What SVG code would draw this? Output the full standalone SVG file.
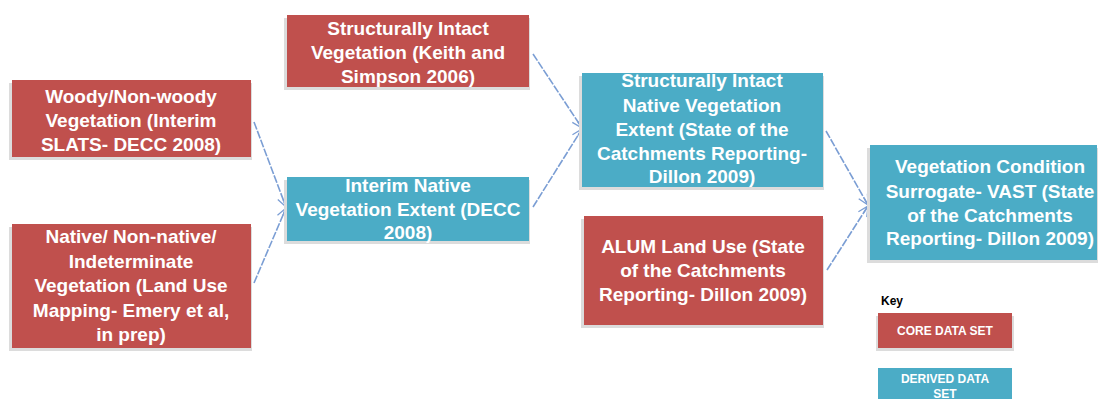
<svg xmlns="http://www.w3.org/2000/svg" width="1098" height="399" viewBox="0 0 1098 399">
<defs>
<marker id="arr" viewBox="0 0 12 12" refX="11" refY="6" markerWidth="12" markerHeight="12" markerUnits="userSpaceOnUse" orient="auto">
<path d="M1,1 L11,6 L1,11 M3,6 L11,6" fill="none" stroke="#7b9ed4" stroke-width="1.3"/>
</marker>
</defs>
<style>
.core{fill:#c0504d}
.der{fill:#4bacc6}
.sh{fill:#dcdcdc}
.t{font-family:"Liberation Sans",Arial,sans-serif;font-weight:bold;font-size:19px;fill:#ffffff;text-anchor:middle}
.k{font-family:"Liberation Sans",Arial,sans-serif;font-weight:bold;font-size:12px;fill:#ffffff;text-anchor:middle}
.c{fill:none;stroke:#7b9ed4;stroke-width:1.6;stroke-dasharray:8 1.5;marker-end:url(#arr)}
</style>
<rect width="1098" height="399" fill="#ffffff"/>
<g id="connectors">
<path class="c" d="M254,122 L286,207"/>
<path class="c" d="M254,283 L286,208"/>
<path class="c" d="M533,54 L582,128"/>
<path class="c" d="M533,207 L582,129"/>
<path class="c" d="M826,131 L868,205"/>
<path class="c" d="M827,270 L868,206"/>
</g>
<g id="n1">
<rect class="sh" x="9" y="83" width="243" height="77"/>
<rect class="core" x="12" y="80" width="239" height="77"/>
<text class="t" x="131" y="103">Woody/Non-woody</text>
<text class="t" x="131" y="127">Vegetation (Interim</text>
<text class="t" x="131" y="151">SLATS- DECC 2008)</text>
</g>
<g id="n2">
<rect class="sh" x="9" y="227" width="243" height="124"/>
<rect class="core" x="12" y="224" width="239" height="124"/>
<text class="t" x="131" y="243">Native/ Non-native/</text>
<text class="t" x="131" y="267.5">Indeterminate</text>
<text class="t" x="131" y="292">Vegetation (Land Use</text>
<text class="t" x="131" y="316.5">Mapping- Emery et al,</text>
<text class="t" x="131" y="341">in prep)</text>
</g>
<g id="n3">
<rect class="sh" x="284" y="18" width="246" height="72"/>
<rect class="core" x="287" y="15" width="242" height="72"/>
<text class="t" x="408" y="35">Structurally Intact</text>
<text class="t" x="408" y="59">Vegetation (Keith and</text>
<text class="t" x="408" y="83">Simpson 2006)</text>
</g>
<g id="n4">
<rect class="sh" x="284" y="180" width="246" height="64"/>
<rect class="der" x="287" y="177" width="242" height="64"/>
<text class="t" x="408" y="192">Interim Native</text>
<text class="t" x="408" y="215.5">Vegetation Extent (DECC</text>
<text class="t" x="408" y="239">2008)</text>
</g>
<g id="n5">
<rect class="sh" x="579" y="76" width="245" height="114"/>
<rect class="der" x="582" y="73" width="241" height="114"/>
<text class="t" x="702" y="87">Structurally Intact</text>
<text class="t" x="702" y="112">Native Vegetation</text>
<text class="t" x="702" y="136">Extent (State of the</text>
<text class="t" x="702" y="160">Catchments Reporting-</text>
<text class="t" x="702" y="183">Dillon 2009)</text>
</g>
<g id="n6">
<rect class="sh" x="581" y="219" width="243" height="109"/>
<rect class="core" x="584" y="216" width="239" height="109"/>
<text class="t" x="703" y="253">ALUM Land Use (State</text>
<text class="t" x="703" y="277">of the Catchments</text>
<text class="t" x="703" y="301">Reporting- Dillon 2009)</text>
</g>
<g id="n7">
<rect class="sh" x="867" y="148" width="231" height="115"/>
<rect class="der" x="870" y="145" width="227" height="115"/>
<text class="t" x="990" y="173">Vegetation Condition</text>
<text class="t" x="990" y="198">Surrogate- VAST (State</text>
<text class="t" x="990" y="222">of the Catchments</text>
<text class="t" x="990" y="245">Reporting- Dillon 2009)</text>
</g>
<g id="key">
<text x="881" y="305" font-family="Liberation Sans,Arial,sans-serif" font-weight="bold" font-size="12" fill="#000000">Key</text>
<rect class="sh" x="876" y="316" width="138" height="35"/>
<rect class="core" x="878" y="313" width="134" height="35"/>
<text class="k" x="945" y="335">CORE DATA SET</text>
<rect class="der" x="878" y="368" width="134" height="35"/>
<text class="k" x="945" y="383">DERIVED  DATA</text>
<text class="k" x="945" y="398">SET</text>
</g>
</svg>
